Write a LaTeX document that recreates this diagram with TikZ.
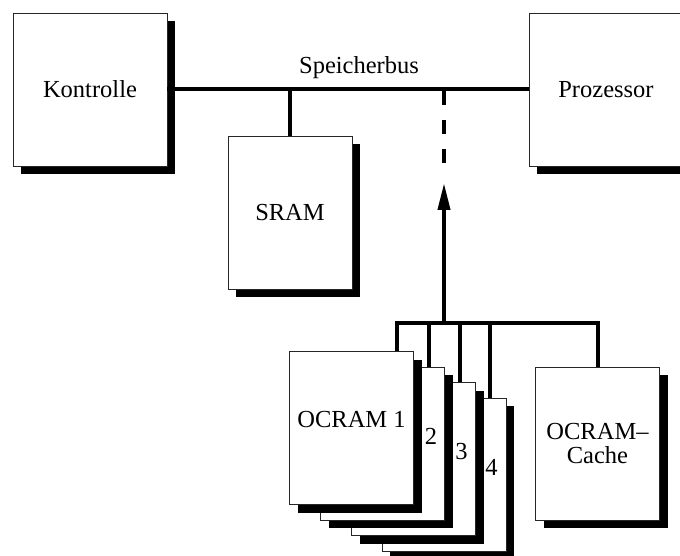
\documentclass[tikz,border=0pt]{standalone}
\usepackage{fontspec}
\setmainfont{Liberation Serif}
\usetikzlibrary{shadows,arrows.meta,calc}

\tikzset{
  unit/.style={draw=black!85, line width=0.8pt, fill=white,
    inner sep=0pt, minimum width=#1,
    drop shadow={shadow xshift=8pt, shadow yshift=-8pt, opacity=1, fill=black}},
  unit/.default=154pt,
  bus/.style={line width=4pt},
  label/.style={inner sep=0pt, font=\fontsize{24.5}{21}\selectfont},
}

\begin{document}
\begin{tikzpicture}[x=1pt, y=-1pt, font=\fontsize{24.5}{21}\selectfont]
  \useasboundingbox (0,0) rectangle (680,556);
  \clip (0,0) rectangle (680,556);

  % top row: controller, processor and static RAM
  \node[unit=154pt, minimum height=153pt] (kon)  at (90,89.5)   {Kontrolle};
  \node[unit=154pt, minimum height=153pt] (proz) at (606,89.5)  {Prozessor};
  \node[unit=124pt, minimum height=153pt] (sram) at (290,212.5) {SRAM};

  % memory bus
  \draw[bus] (kon.east) -- (proz.west);
  \node[label] (busname) at (359,68) {Speicherbus};
  \draw[bus] (sram.north) -- (sram.north |- kon.east);

  % stacked OCRAM modules, back to front
  \node[unit=124pt, minimum height=153pt] (o4) at (444,474.5) {};
  \node[label] (l4) at ([xshift=-15pt,yshift=7.5pt]o4.east) {4};
  \node[unit=124pt, minimum height=153pt] (o3) at (413.5,459) {};
  \node[label] (l3) at ([xshift=-14.5pt,yshift=7.5pt]o3.east) {3};
  \node[unit=124pt, minimum height=153pt] (o2) at (382.5,443.5) {};
  \node[label] (l2) at ([xshift=-14pt,yshift=7.5pt]o2.east) {2};
  \node[unit=124pt, minimum height=153pt] (o1) at (351.5,428) {};
  \node[label] (l1) at ([yshift=8pt]o1.center) {OCRAM 1};

  % OCRAM cache
  \node[unit=124pt, minimum height=153pt, align=center,
        font=\fontsize{24.5}{23.5}\selectfont] (cache) at (597.5,443.5)
    {OCRAM–\\Cache};

  % local OCRAM bus
  \coordinate (hub) at (444,323);
  \draw[bus, line join=miter] ([xshift=-17pt]o1.north east) |- (hub) -| (cache.north);
  \draw[bus] ([xshift=-16pt]o2.north east) -- ([xshift=-16pt]o2.north east |- hub);
  \draw[bus] ([xshift=-16pt]o3.north east) -- ([xshift=-16pt]o3.north east |- hub);
  \draw[bus] ([xshift=-16pt]o4.north east) -- ([xshift=-16pt]o4.north east |- hub);

  % optional link to the memory bus
  \coordinate (tap) at (hub |- kon.east);
  \coordinate (tip) at (444,183);
  \coordinate (dend) at (444,166);
  \draw[bus, dash pattern=on 14pt off 15pt, dash phase=-2pt] (tap) -- (dend);
  \draw[bus, -{Triangle[length=27pt, width=12pt]}] (hub) -- (tip);
\end{tikzpicture}
\end{document}
